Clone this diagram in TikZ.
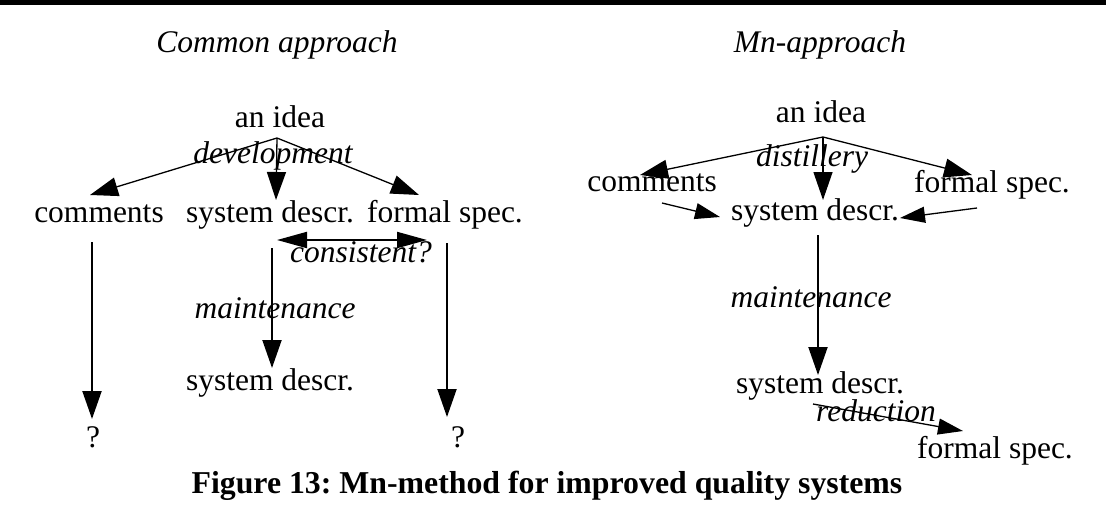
\documentclass[tikz,border=0pt]{standalone}
\usepackage{fontspec}
\setmainfont{Liberation Serif}
\usetikzlibrary{arrows.meta}
\frenchspacing
\begin{document}
\begin{tikzpicture}[x=1pt,y=-1pt,
  txt/.style={anchor=base,inner sep=0pt,font=\fontsize{31.5}{36}\selectfont},
  lbl/.style={txt,font=\fontsize{31.5}{36}\selectfont\itshape},
  captext/.style={txt,font=\fontsize{31.8}{36}\selectfont\bfseries},
  conn/.style={line width=1.3pt,-{Triangle[length=28pt,width=19pt]}},
  vconn/.style={line width=2pt,-{Triangle[length=28pt,width=19pt]}},
  sconn/.style={line width=1.3pt,-{Triangle[length=25pt,width=16pt]}},
  both/.style={line width=2pt,{Triangle[length=30pt,width=16pt]}-{Triangle[length=30pt,width=16pt]}}]
\useasboundingbox (0,0) rectangle (1106,517);
\fill[black] (0,0) rectangle (1106,4.5);

% ---------- left column: the usual way ----------
\node[lbl] (ttlA) at (277,52) {Common approach};
\node[txt] (ideaA) at (280,127) {an idea};
\node[lbl] (devA) at (273,163) {development};
\node[txt] (comA) at (99,222) {comments};
\node[txt] (sysA) at (270,222) {system descr.};
\node[txt] (fsA) at (445,222) {formal spec.};
\node[lbl] (consA) at (361,262) {consistent?};
\node[lbl] (mntA) at (275,318) {maintenance};
\node[txt] (sysA2) at (270,390) {system descr.};
\node[txt] (qA1) at (93,447) {?};
\node[txt] (qA2) at (458,447) {?};

\coordinate (oA) at (277,138);
\coordinate (tComA) at (90,195);
\coordinate (tSysA) at (276,200);
\coordinate (tFsA) at (419,195);
\draw[conn] (oA) -- (tComA);
\draw[conn] (oA) -- (tSysA);
\draw[conn] (oA) -- (tFsA);

\coordinate (cL) at (277,240);
\coordinate (cR) at (427,240);
\draw[both] (cL) -- (cR);

\coordinate (sComA) at (92,242);
\coordinate (eComA) at (92,419);
\coordinate (sSysA) at (272,248);
\coordinate (eSysA) at (272,368);
\coordinate (sFsA) at (447,243);
\coordinate (eFsA) at (447,417);
\draw[vconn] (sComA) -- (eComA);
\draw[vconn] (sSysA) -- (eSysA);
\draw[vconn] (sFsA) -- (eFsA);

% ---------- right column: the Mn way ----------
\node[lbl] (ttlB) at (820,52) {Mn-approach};
\node[txt] (ideaB) at (821,122) {an idea};
\node[lbl] (dstB) at (812,166) {distillery};
\node[txt] (comB) at (652,191) {comments};
\node[txt] (fsB) at (992,192) {formal spec.};
\node[txt] (sysB) at (815,220) {system descr.};
\node[lbl] (mntB) at (811,307) {maintenance};
\node[txt] (sysB2) at (820,393) {system descr.};
\node[lbl] (redB) at (876,421) {reduction};
\node[txt] (fsB2) at (995,458) {formal spec.};

\coordinate (oB) at (823,137);
\coordinate (tComB) at (640,175);
\coordinate (tSysB) at (823,200);
\coordinate (tFsB) at (972,175);
\draw[conn] (oB) -- (tComB);
\draw[conn] (oB) -- (tSysB);
\draw[conn] (oB) -- (tFsB);

\coordinate (sCm) at (662,203);
\coordinate (eCm) at (720,217);
\coordinate (sFm) at (977,208);
\coordinate (eFm) at (900,218);
\draw[sconn] (sCm) -- (eCm);
\draw[sconn] (sFm) -- (eFm);

\coordinate (sMB) at (818,235);
\coordinate (eMB) at (818,375);
\draw[vconn] (sMB) -- (eMB);

\coordinate (sRd) at (813,404);
\coordinate (eRd) at (963,431);
\draw[sconn] (sRd) -- (eRd);

% ---------- caption ----------
\node[captext] (caption) at (547,493) {Figure 13: Mn-method for improved quality systems};
\end{tikzpicture}
\end{document}
